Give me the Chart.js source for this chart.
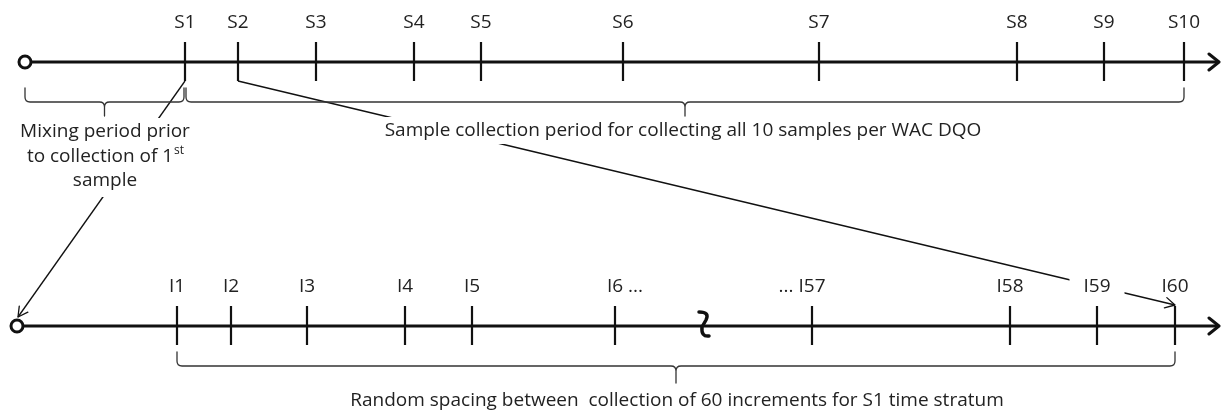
<!DOCTYPE html>
<html lang="en">
<head>
<meta charset="UTF-8">
<title>Sample and increment timeline</title>
<script src="https://cdn.jsdelivr.net/npm/chart.js"></script>
<style>
  body { margin: 0; background: #fff; }
  #diagrama { display: block; }
</style>
</head>
<body>
<canvas id="diagrama" width="1221" height="412"></canvas>
<script>
// Amostras (linha de cima) e incrementos (linha de baixo)
const sampleLabels = ['S1', 'S2', 'S3', 'S4', 'S5', 'S6', 'S7', 'S8', 'S9', 'S10'];
const sampleTimes = [185, 238, 316, 414, 481, 623, 819, 1017, 1104, 1184];
const incrementLabels = ['I1', 'I2', 'I3', 'I4', 'I5', 'I6 ...', '... I57', 'I58', 'I59', 'I60'];
const incrementTimes = [177, 231, 307, 405, 472, 615, 812, 1010, 1097, 1175];
const breakTime = 703;
const mixingStart = 25;
const mixingText = ['Mixing period prior', 'to collection of 1', 'sample'];
const sampleText = 'Sample collection period for collecting all 10 samples per WAC DQO';
const incrementText = 'Random spacing between  collection of 60 increments for S1 time stratum';

// linhas do desenho (valores no eixo y)
const topRow = 62, bottomRow = 326;
const ink = '#111';
const textInk = '#222';
const FONT = '"Open Sans", "DejaVu Sans", sans-serif';

function tickSegments(times, row) {
  return times.flatMap(t => [{x: t, y: row - 20}, {x: t, y: row + 19}, {x: t, y: null}]);
}

function lineSet(data, width) {
  return { type: 'scatter', data: data, showLine: true, borderColor: ink, borderWidth: width,
           pointRadius: 0, spanGaps: false, tension: 0, clip: false };
}

// Chaves, textos, setas e quebra
const diagram = {
  id: 'diagram',
  afterDatasetsDraw(chart) {
    const ctx = chart.ctx;
    const X = v => chart.scales.x.getPixelForValue(v);
    const Y = v => chart.scales.y.getPixelForValue(v);
    ctx.save();

    // setas no fim dos eixos
    ctx.strokeStyle = ink; ctx.lineWidth = 3; ctx.lineCap = 'round'; ctx.lineJoin = 'round';
    [topRow, bottomRow].forEach(r => {
      ctx.beginPath();
      ctx.moveTo(X(1209), Y(r - 8)); ctx.lineTo(X(1219), Y(r)); ctx.lineTo(X(1209), Y(r + 8));
      ctx.stroke();
    });

    // pontas das setas dos conectores
    function head(x0, y0, x1, y1) {
      const a = Math.atan2(Y(y1) - Y(y0), X(x1) - X(x0));
      ctx.beginPath();
      ctx.moveTo(X(x1) - 11 * Math.cos(a - 0.5), Y(y1) - 11 * Math.sin(a - 0.5));
      ctx.lineTo(X(x1), Y(y1));
      ctx.lineTo(X(x1) - 11 * Math.cos(a + 0.5), Y(y1) - 11 * Math.sin(a + 0.5));
      ctx.stroke();
    }
    ctx.lineWidth = 1.3;
    head(sampleTimes[0], topRow + 19, 18, bottomRow - 9);
    head(sampleTimes[1], topRow + 19, incrementTimes[9], bottomRow - 21);

    // quebra no eixo de baixo
    const bx = X(breakTime), by = Y(bottomRow);
    ctx.lineWidth = 3.5;
    ctx.beginPath();
    ctx.moveTo(bx - 4, by - 14);
    ctx.quadraticCurveTo(bx + 7, by - 14, bx + 3, by - 6);
    ctx.lineTo(bx - 1, by + 1);
    ctx.quadraticCurveTo(bx - 2, by + 11, bx + 6, by + 10);
    ctx.stroke();

    // chaves
    function brace(x0, x1, top, mid, tip) {
      const xc = (x0 + x1) / 2, r = 5;
      ctx.beginPath();
      ctx.moveTo(x0, top); ctx.lineTo(x0, mid - r);
      ctx.quadraticCurveTo(x0, mid, x0 + r, mid); ctx.lineTo(xc - r, mid);
      ctx.quadraticCurveTo(xc, mid, xc, mid + r); ctx.lineTo(xc, tip);
      ctx.moveTo(xc, mid + r);
      ctx.quadraticCurveTo(xc, mid, xc + r, mid); ctx.lineTo(x1 - r, mid);
      ctx.quadraticCurveTo(x1, mid, x1, mid - r); ctx.lineTo(x1, top);
      ctx.stroke();
    }
    ctx.strokeStyle = '#333'; ctx.lineWidth = 1.3;
    brace(X(mixingStart), X(sampleTimes[0] - 1), Y(topRow + 26), Y(topRow + 40), Y(topRow + 54));
    brace(X(sampleTimes[0] + 1), X(sampleTimes[9]), Y(topRow + 26), Y(topRow + 40), Y(topRow + 54));
    brace(X(incrementTimes[0]), X(incrementTimes[9]), Y(bottomRow + 26), Y(bottomRow + 40), Y(bottomRow + 57));

    // rótulos
    ctx.textBaseline = 'middle';
    ctx.font = '19px ' + FONT;
    function label(txt, t, y) {
      const w = ctx.measureText(txt).width;
      let left;
      if (txt.endsWith('...')) left = X(t) - ctx.measureText(txt.split(' ')[0]).width / 2;
      else if (txt.startsWith('...')) left = X(t) + ctx.measureText(txt.split(' ')[1]).width / 2 - w;
      else left = X(t) - w / 2;
      ctx.fillStyle = '#fff';
      ctx.fillRect(left - 14, y - 10, w + 28, 20);
      ctx.fillStyle = textInk; ctx.textAlign = 'left';
      ctx.fillText(txt, left, y);
    }
    sampleLabels.forEach((s, i) => label(s, sampleTimes[i], Y(23)));
    incrementLabels.forEach((s, i) => label(s, incrementTimes[i], Y(287)));

    // textos das chaves
    ctx.fillStyle = '#fff';
    ctx.fillRect(X(14), Y(118), 182, 79);
    ctx.fillStyle = textInk; ctx.textAlign = 'center';
    ctx.fillText(mixingText[0], X(105), Y(132));
    ctx.fillText(mixingText[2], X(105), Y(181));
    const w1 = ctx.measureText(mixingText[1]).width;
    ctx.font = '12px ' + FONT;
    const w2 = ctx.measureText('st').width;
    const sx = X(105) - (w1 + w2) / 2;
    ctx.textAlign = 'left';
    ctx.font = '19px ' + FONT;
    ctx.fillText(mixingText[1], sx, Y(157));
    ctx.font = '12px ' + FONT;
    ctx.fillText('st', sx + w1 + 1, Y(151));

    ctx.font = '19px ' + FONT;
    ctx.textAlign = 'center';
    const sw = ctx.measureText(sampleText).width;
    ctx.fillStyle = '#fff';
    ctx.fillRect(X(683) - sw / 2 - 4, Y(117), sw + 8, 27);
    ctx.fillStyle = textInk;
    ctx.fillText(sampleText, X(683), Y(131));
    ctx.fillText(incrementText, X(677), Y(401));
    ctx.restore();
  }
};

const ctx = document.getElementById('diagrama').getContext('2d');
const chart = new Chart(ctx, {
  type: 'scatter',
  data: {
    datasets: [
      { data: [{x: mixingStart, y: topRow}, {x: 17, y: bottomRow}], pointRadius: 6,
        pointBorderWidth: 3, pointBorderColor: ink, pointBackgroundColor: '#fff', clip: false },
      lineSet(tickSegments(sampleTimes, topRow), 2.2),
      lineSet(tickSegments(incrementTimes, bottomRow), 2.2),
      lineSet([{x: mixingStart, y: topRow}, {x: 1218, y: topRow}], 3.2),
      lineSet([{x: 17, y: bottomRow}, {x: 1218, y: bottomRow}], 3.2),
      lineSet([{x: sampleTimes[0], y: topRow + 19}, {x: 18, y: bottomRow - 9}], 1.3),
      lineSet([{x: sampleTimes[1], y: topRow + 19}, {x: incrementTimes[9], y: bottomRow - 21}], 1.3)
    ]
  },
  options: {
    responsive: false,
    animation: false,
    layout: { padding: 0, autoPadding: false },
    plugins: { legend: { display: false }, tooltip: { enabled: false } },
    scales: {
      x: { type: 'linear', min: 0, max: 1221, display: false },
      y: { type: 'linear', min: 0, max: 412, reverse: true, display: false }
    }
  },
  plugins: [diagram]
});
</script>
</body>
</html>
